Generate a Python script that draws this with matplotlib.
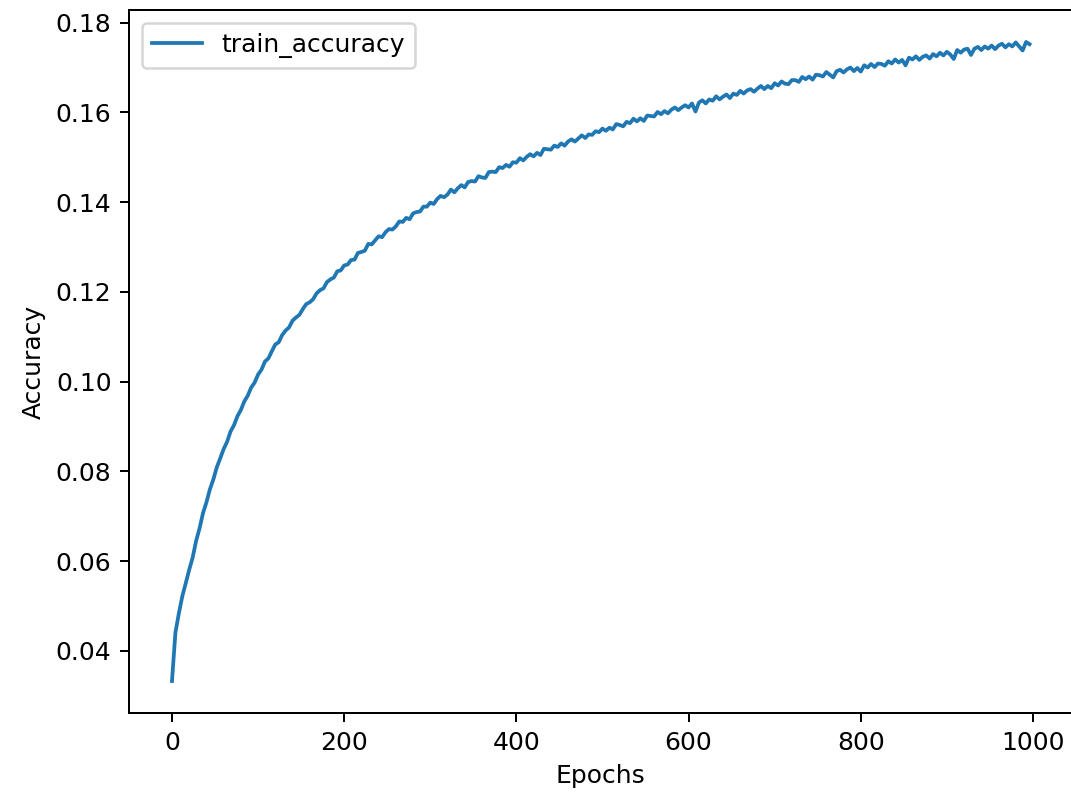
import matplotlib
matplotlib.use("Agg")
import matplotlib.pyplot as plt

# Training accuracy logged every 4 epochs
epochs = list(range(0, 1000, 4))

train_accuracy = [
    # 0 - 96
    0.0333, 0.0441, 0.0484, 0.0522, 0.0551, 0.0581, 0.0608, 0.0645, 0.0673, 0.0707,
    0.0731, 0.0760, 0.0782, 0.0809, 0.0829, 0.0850, 0.0866, 0.0889, 0.0903, 0.0923,
    0.0937, 0.0956, 0.0969, 0.0987, 0.0998,
    # 100 - 196
    0.1016, 0.1027, 0.1045, 0.1052, 0.1068, 0.1083, 0.1088, 0.1104, 0.1114, 0.1121,
    0.1136, 0.1143, 0.1149, 0.1162, 0.1173, 0.1177, 0.1184, 0.1197, 0.1204, 0.1208,
    0.1222, 0.1228, 0.1232, 0.1246, 0.1248,
    # 200 - 296
    0.1259, 0.1261, 0.1271, 0.1272, 0.1287, 0.1289, 0.1292, 0.1307, 0.1306, 0.1315,
    0.1324, 0.1322, 0.1333, 0.1340, 0.1339, 0.1346, 0.1357, 0.1356, 0.1365, 0.1362,
    0.1375, 0.1378, 0.1379, 0.1390, 0.1390,
    # 300 - 396
    0.1399, 0.1396, 0.1407, 0.1414, 0.1411, 0.1417, 0.1428, 0.1422, 0.1431, 0.1438,
    0.1433, 0.1445, 0.1447, 0.1446, 0.1458, 0.1455, 0.1454, 0.1467, 0.1468, 0.1467,
    0.1478, 0.1476, 0.1483, 0.1479, 0.1489,
    # 400 - 496
    0.1488, 0.1498, 0.1493, 0.1501, 0.1507, 0.1502, 0.1510, 0.1505, 0.1519, 0.1518,
    0.1517, 0.1526, 0.1523, 0.1531, 0.1526, 0.1535, 0.1540, 0.1535, 0.1542, 0.1549,
    0.1543, 0.1551, 0.1550, 0.1558, 0.1556,
    # 500 - 596
    0.1564, 0.1559, 0.1566, 0.1562, 0.1574, 0.1572, 0.1569, 0.1579, 0.1576, 0.1586,
    0.1580, 0.1587, 0.1581, 0.1593, 0.1592, 0.1591, 0.1601, 0.1596, 0.1603, 0.1598,
    0.1606, 0.1611, 0.1605, 0.1611, 0.1616,
    # 600 - 696
    0.1611, 0.1620, 0.1602, 0.1622, 0.1627, 0.1620, 0.1629, 0.1626, 0.1636, 0.1629,
    0.1635, 0.1640, 0.1632, 0.1642, 0.1639, 0.1648, 0.1642, 0.1649, 0.1652, 0.1646,
    0.1653, 0.1659, 0.1652, 0.1659, 0.1654,
    # 700 - 796
    0.1665, 0.1660, 0.1669, 0.1664, 0.1663, 0.1672, 0.1672, 0.1668, 0.1679, 0.1674,
    0.1680, 0.1673, 0.1684, 0.1683, 0.1680, 0.1690, 0.1684, 0.1678, 0.1692, 0.1695,
    0.1689, 0.1696, 0.1700, 0.1692, 0.1699,
    # 800 - 896
    0.1691, 0.1705, 0.1700, 0.1708, 0.1701, 0.1709, 0.1708, 0.1704, 0.1714, 0.1709,
    0.1718, 0.1711, 0.1717, 0.1705, 0.1722, 0.1718, 0.1725, 0.1717, 0.1724, 0.1727,
    0.1720, 0.1730, 0.1725, 0.1733, 0.1727,
    # 900 - 996
    0.1735, 0.1729, 0.1719, 0.1739, 0.1733, 0.1740, 0.1742, 0.1728, 0.1742, 0.1746,
    0.1739, 0.1747, 0.1742, 0.1749, 0.1741, 0.1749, 0.1753, 0.1745, 0.1752, 0.1747,
    0.1756, 0.1747, 0.1738, 0.1757, 0.1752,
]

DPI = 180
fig = plt.figure(figsize=(1071 / DPI, 796 / DPI), dpi=DPI)
ax = fig.add_axes([129.1 / 1071, 83 / 796, 943.3 / 1071, 703 / 796])

ax.plot(epochs, train_accuracy, color="#1f77b4", label="train_accuracy")
ax.set_xlabel("Epochs")
ax.set_ylabel("Accuracy")
ax.set_xticks([0, 200, 400, 600, 800, 1000])
ax.legend(loc="upper left")

fig.savefig("out.png", dpi=DPI)
